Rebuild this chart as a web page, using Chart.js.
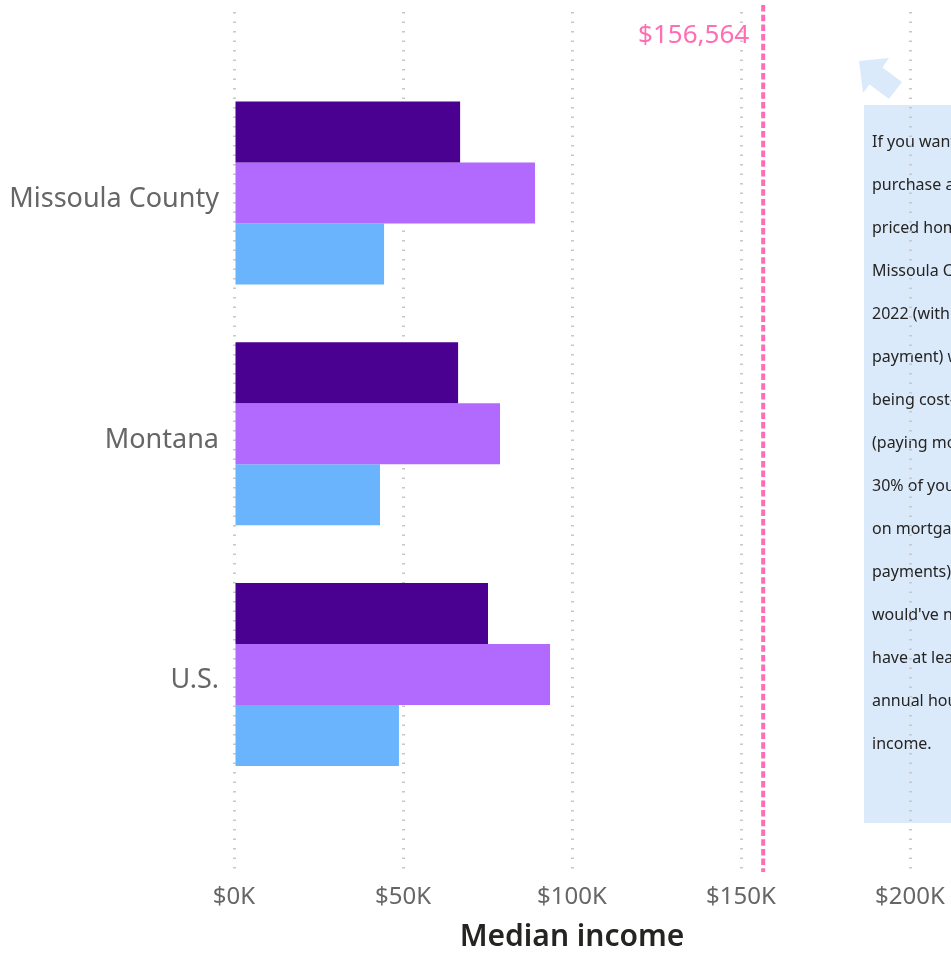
<!DOCTYPE html>
<html>
<head>
<meta charset="utf-8">
<script src="https://cdn.jsdelivr.net/npm/chart.js@4"></script>
<style>
  html, body { margin: 0; padding: 0; background: #fff; }
  #wrap { width: 951px; height: 955px; overflow: hidden; }
</style>
</head>
<body>
<div id="wrap"><canvas id="income" width="951" height="955"></canvas></div>
<script>
'use strict';

var places = ['Missoula County', 'Montana', 'U.S.'];
var householdIncome = [66900, 66300, 75150];
var familyIncome = [89050, 78700, 93500];
var nonFamilyIncome = [44400, 43200, 48800];
var xTicks = [0, 50000, 100000, 150000, 200000];
var neededIncome = 156564;
var noteLines = [
  'If you wanted to',
  'purchase a median-',
  'priced home in',
  'Missoula County in',
  '2022 (with no down',
  'payment) without',
  'being cost-burdened',
  '(paying more than',
  '30% of your income',
  'on mortgage',
  'payments), you',
  "would've needed to",
  'have at least this',
  'annual household',
  'income.'
];

var FONT = '"Noto Sans", "Open Sans", sans-serif';

function rows(values) {
  return values.map(function (v, i) { return { x: v, y: i }; });
}

// light blue note box with the arrow pointing at the line label
var notePlugin = {
  id: 'note',
  beforeDraw: function (chart) {
    var ctx = chart.ctx;
    ctx.save();
    ctx.fillStyle = '#dbeafb';
    ctx.fillRect(864, 105, 200, 718);
    ctx.beginPath();
    ctx.moveTo(859, 61);
    ctx.lineTo(889, 58);
    ctx.lineTo(882.5, 67.5);
    ctx.lineTo(902, 82);
    ctx.lineTo(889, 99);
    ctx.lineTo(869.5, 84.5);
    ctx.lineTo(863, 93);
    ctx.closePath();
    ctx.fill();
    ctx.fillStyle = '#252423';
    ctx.font = '16px ' + FONT;
    ctx.textBaseline = 'middle';
    ctx.textAlign = 'left';
    noteLines.forEach(function (t, i) {
      ctx.fillText(t, 872, 142 + i * 43);
    });
    ctx.restore();
  },
  afterDraw: function (chart) {
    var ctx = chart.ctx;
    var x = chart.scales.x.getPixelForValue(neededIncome);
    ctx.save();
    ctx.strokeStyle = '#ff6eb4';
    ctx.lineWidth = 4;
    ctx.setLineDash([6.5, 3.2]);
    ctx.beginPath();
    ctx.moveTo(x, 5);
    ctx.lineTo(x, 872);
    ctx.stroke();
    ctx.fillStyle = '#ff6eb4';
    ctx.font = '26px ' + FONT;
    ctx.textAlign = 'right';
    ctx.textBaseline = 'middle';
    ctx.fillText('$' + neededIncome.toLocaleString('en-US'), x - 14, 36);
    ctx.restore();
  }
};

var ctx = document.getElementById('income');
var chart = new Chart(ctx, {
  type: 'bar',
  data: {
    datasets: [
      { label: 'Household', data: rows(householdIncome), backgroundColor: '#4a0090' },
      { label: 'Family', data: rows(familyIncome), backgroundColor: '#b26afe' },
      { label: 'Non-family', data: rows(nonFamilyIncome), backgroundColor: '#6ab4fe' }
    ]
  },
  options: {
    indexAxis: 'y',
    responsive: false,
    animation: false,
    categoryPercentage: 0.76,
    barPercentage: 1.0,
    layout: { padding: { top: 12, right: 41, left: 0, bottom: 0 } },
    plugins: {
      legend: { display: false },
      tooltip: { enabled: false }
    },
    scales: {
      x: {
        type: 'linear',
        min: 0,
        max: 200000,
        afterFit: function (s) {
          s.height = 83;
          s.paddingLeft = 0;
          s.paddingRight = 0;
        },
        afterBuildTicks: function (s) {
          s.ticks = xTicks.map(function (v) { return { value: v }; });
        },
        border: { display: false, dash: [1.5, 8] },
        grid: {
          color: '#c8c8c8',
          lineWidth: 3,
          drawTicks: false
        },
        ticks: {
          padding: 11,
          color: '#666666',
          font: { family: FONT, size: 24 },
          callback: function (v) { return '$' + (v / 1000) + 'K'; }
        },
        title: {
          display: true,
          text: 'Median income',
          color: '#252423',
          padding: { top: 0, bottom: 0 },
          font: { family: FONT, size: 30, weight: '600' }
        }
      },
      y: {
        type: 'linear',
        reverse: true,
        offset: false,
        min: -0.752,
        max: 2.82,
        afterFit: function (s) {
          s.width = 234;
          s.paddingTop = 0;
          s.paddingBottom = 0;
        },
        afterBuildTicks: function (s) {
          s.ticks = places.map(function (p, i) { return { value: i }; });
        },
        border: { display: false },
        grid: { display: false, drawTicks: false },
        ticks: {
          padding: 15,
          labelOffset: 6,
          color: '#666666',
          font: { family: FONT, size: 27 },
          callback: function (v) { return places[v]; }
        }
      }
    }
  },
  plugins: [notePlugin]
});
</script>
</body>
</html>
